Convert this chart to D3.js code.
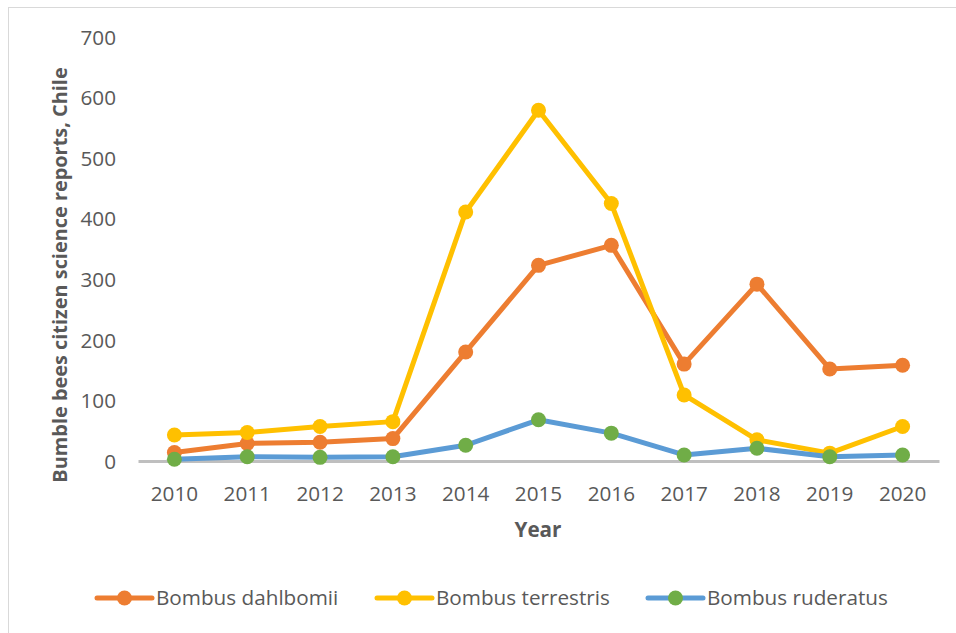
<!DOCTYPE html>
<html><head><meta charset="utf-8">
<script src="https://cdn.jsdelivr.net/npm/d3@7"></script>
<style>body{margin:0;background:#fff}svg{display:block}</style>
</head><body>
<svg id="c" width="956" height="633"></svg>
<script>
const years = ["2010","2011","2012","2013","2014","2015","2016","2017","2018","2019","2020"];
const dahlbomii = [14, 29, 31, 37, 180, 323, 356, 160, 292, 152, 158];
const terrestris = [43, 47, 57, 65, 411, 579, 425, 109, 35, 13, 57];
const ruderatus = [3, 7, 6, 7, 26, 68, 46, 10, 21, 7, 10];
const yTicks = [0, 100, 200, 300, 400, 500, 600, 700];
const seriesNames = ["Bombus dahlbomii", "Bombus terrestris", "Bombus ruderatus"];

const series = [
  {name: seriesNames[0], values: dahlbomii, line: "#ED7D31", marker: "#ED7D31"},
  {name: seriesNames[1], values: terrestris, line: "#FFC000", marker: "#FFC000"},
  {name: seriesNames[2], values: ruderatus, line: "#5B9BD5", marker: "#70AD47"}
];

const svg = d3.select("#c");
const font = "'Open Sans', 'Liberation Sans', sans-serif";
const textCol = "#595959";
const fs = 20.7;

// chart frame
svg.append("rect").attr("x", 8.5).attr("y", 7.5).attr("width", 960).attr("height", 640)
  .attr("fill", "none").attr("stroke", "#d9d9d9").attr("stroke-width", 1);

const x = d3.scaleBand().domain(years).range([138, 939]);
const y = d3.scaleLinear().domain([0, 700]).range([461, 37]);

// y tick labels
const yAxis = d3.axisLeft(y).tickValues(yTicks).tickSize(0).tickPadding(0);
const gy = svg.append("g").attr("transform", "translate(116,0)").call(yAxis);
gy.select(".domain").remove();
gy.selectAll("text").attr("font-family", font).attr("font-size", fs).attr("fill", textCol).attr("dy", "0.35em");

// x axis
const xAxis = d3.axisBottom(x).tickSize(0).tickPadding(0);
const gx = svg.append("g").attr("transform", "translate(0,461)").call(xAxis);
gx.select(".domain").attr("stroke", "#bfbfbf").attr("stroke-width", 3);
gx.selectAll("text").attr("font-family", font).attr("font-size", fs).attr("fill", textCol).attr("dy", "0").attr("y", 40);

// axis titles
svg.append("text").attr("x", 538).attr("y", 537).attr("text-anchor", "middle")
  .attr("font-family", font).attr("font-weight", "bold").attr("font-size", fs).attr("fill", textCol).text("Year");
svg.append("text").attr("transform", "translate(67,275) rotate(-90)").attr("text-anchor", "middle")
  .attr("font-family", font).attr("font-weight", "bold").attr("font-size", 19.9).attr("fill", textCol)
  .text("Bumble bees citizen science reports, Chile");

// lines
const line = d3.line().x((d, i) => x(years[i]) + x.bandwidth() / 2).y(d => y(d));
series.forEach(s => {
  const g = svg.append("g");
  g.append("path").datum(s.values).attr("d", line).attr("fill", "none")
    .attr("stroke", s.line).attr("stroke-width", 5).attr("stroke-linejoin", "round").attr("stroke-linecap", "round");
  g.selectAll("circle").data(s.values).join("circle")
    .attr("cx", (d, i) => x(years[i]) + x.bandwidth() / 2).attr("cy", d => y(d)).attr("r", 7.5)
    .attr("fill", s.marker);
});

// legend
const legendX = [97, 377, 648];
series.forEach((s, i) => {
  const g = svg.append("g").attr("transform", `translate(${legendX[i]},598)`);
  g.append("line").attr("x1", 0).attr("x2", 55).attr("y1", 0).attr("y2", 0)
    .attr("stroke", s.line).attr("stroke-width", 5).attr("stroke-linecap", "round");
  g.append("circle").attr("cx", 27.5).attr("cy", 0).attr("r", 7.5).attr("fill", s.marker);
  g.append("text").attr("x", 59).attr("y", 0).attr("dy", "0.35em")
    .attr("font-family", font).attr("font-size", fs).attr("fill", textCol).text(s.name);
});
</script>
</body></html>
